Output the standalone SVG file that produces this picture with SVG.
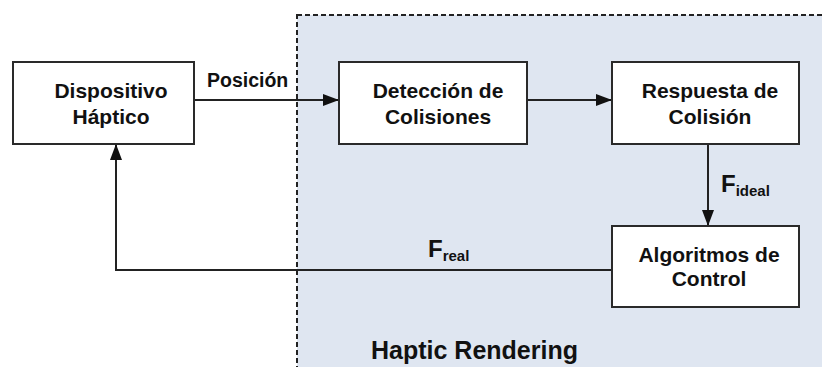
<svg xmlns="http://www.w3.org/2000/svg" width="822" height="367" viewBox="0 0 822 367">
  <defs>
    <style>
      .box { fill: #ffffff; stroke: #2a2a2a; stroke-width: 2; }
      .lbl { font-family: "Liberation Sans", Arial, sans-serif; font-weight: bold; font-size: 21px; fill: #111; text-anchor: middle; }
      .edge { fill: none; stroke: #222; stroke-width: 2; }
      .tag { font-family: "Liberation Sans", Arial, sans-serif; font-weight: bold; fill: #111; }
    </style>
    <marker id="arrow" viewBox="0 0 16 12" refX="16" refY="6" markerWidth="16" markerHeight="12" markerUnits="userSpaceOnUse" orient="auto">
      <path d="M0,0 L16,6 L0,12 Z" fill="#111"/>
    </marker>
  </defs>

  <!-- Haptic rendering region -->
  <g id="haptic-rendering">
    <rect x="297" y="15" width="540" height="370" fill="#dfe6f1" stroke="#222" stroke-width="2" stroke-dasharray="5,3"/>
    <text class="tag" x="371" y="359" font-size="25px">Haptic Rendering</text>
  </g>

  <!-- Connectors -->
  <g id="connectors">
    <line class="edge" x1="194" y1="100" x2="339" y2="100" marker-end="url(#arrow)"/>
    <text class="tag" x="207" y="87" font-size="19.5px">Posición</text>

    <line class="edge" x1="527" y1="100" x2="612" y2="100" marker-end="url(#arrow)"/>

    <line class="edge" x1="708" y1="144" x2="708" y2="226" marker-end="url(#arrow)"/>
    <text class="tag" x="721" y="192" font-size="24px">F<tspan font-size="15px" dy="4">ideal</tspan></text>

    <polyline class="edge" points="612,270 116,270 116,144" marker-end="url(#arrow)"/>
    <text class="tag" x="428" y="257" font-size="24px">F<tspan font-size="15px" dy="4">real</tspan></text>
  </g>

  <g id="dispositivo-haptico">
    <rect class="box" x="13" y="62" width="181" height="82"/>
    <text class="lbl" x="111" y="98">Dispositivo</text>
    <text class="lbl" x="111" y="124">Háptico</text>
  </g>

  <g id="deteccion-colisiones">
    <rect class="box" x="339" y="62" width="188" height="82"/>
    <text class="lbl" x="438" y="98">Detección de</text>
    <text class="lbl" x="438" y="124">Colisiones</text>
  </g>

  <g id="respuesta-colision">
    <rect class="box" x="612" y="62" width="187" height="82"/>
    <text class="lbl" x="710" y="98">Respuesta de</text>
    <text class="lbl" x="710" y="124">Colisión</text>
  </g>

  <g id="algoritmos-control">
    <rect class="box" x="612" y="226" width="187" height="81"/>
    <text class="lbl" x="709" y="262">Algoritmos de</text>
    <text class="lbl" x="709" y="286">Control</text>
  </g>
</svg>
